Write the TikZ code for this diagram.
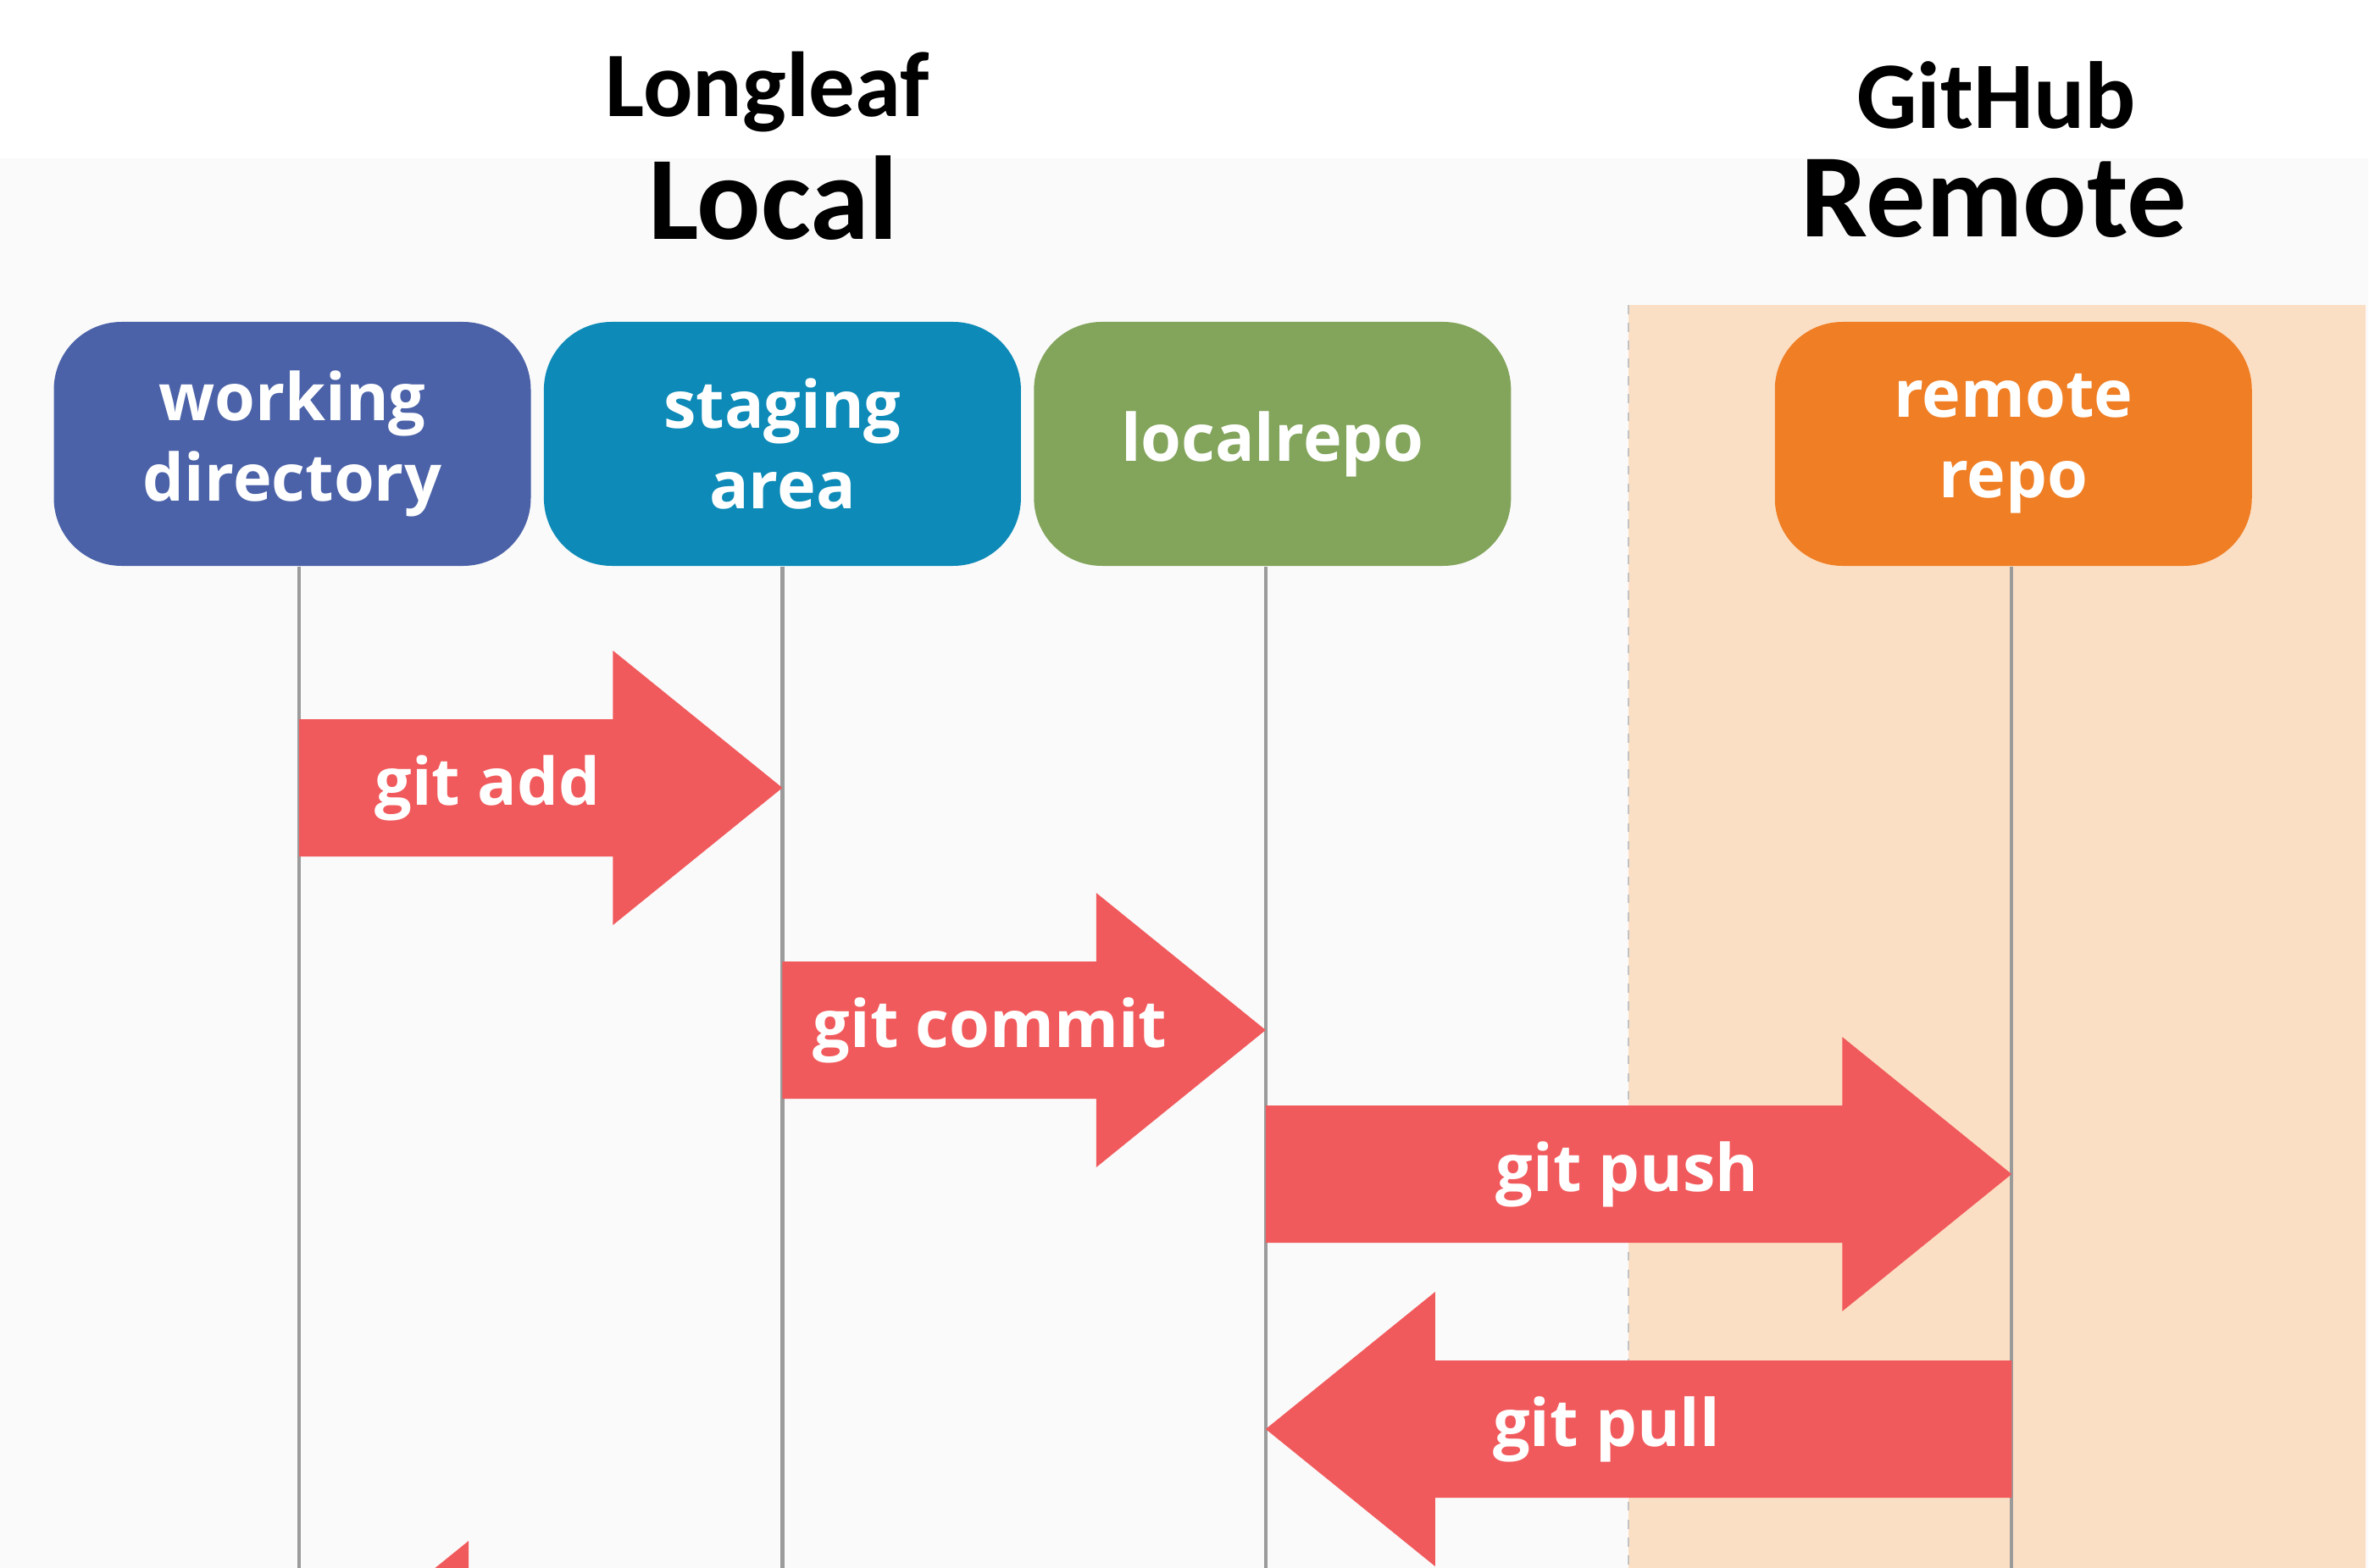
\documentclass[tikz,border=0pt]{standalone}
\usepackage{fontspec}
\setmainfont{Open Sans}
\newfontfamily\titlefont{Carlito}
\usetikzlibrary{calc,positioning}
\definecolor{wdblue}{HTML}{4B62A8}
\definecolor{sateal}{HTML}{0D8AB7}
\definecolor{lrgreen}{HTML}{82A45B}
\definecolor{rrorange}{HTML}{EF7E24}
\definecolor{remotebg}{HTML}{FBDFC4}
\definecolor{pagebg}{HTML}{FAFAFA}
\definecolor{gitred}{HTML}{F15A5C}
\definecolor{lanegray}{HTML}{9B9B9B}

\begin{document}
\begin{tikzpicture}[
  heading/.style={anchor=base, font=\titlefont\fontsize{#1}{#1}\selectfont\bfseries},
  repobox/.style={rounded corners=0.8cm, minimum width=5.63cm, minimum height=2.88cm,
    inner sep=0pt, align=center, text=white, font=\fontsize{22}{27}\selectfont\bfseries},
  lane/.style={lanegray, line width=1.2pt},
  gitstep/.style={fill=gitred, to path={
    ($(\tikztostart)+(0,0.81)$) -- ($(\tikztotarget)!2cm!(\tikztostart)+(0,0.81)$)
    -- ($(\tikztotarget)!2cm!(\tikztostart)+(0,1.62)$) -- (\tikztotarget)
    -- ($(\tikztotarget)!2cm!(\tikztostart)+(0,-1.62)$)
    -- ($(\tikztotarget)!2cm!(\tikztostart)+(0,-0.81)$)
    -- ($(\tikztostart)+(0,-0.81)$) -- cycle}},
  steplabel/.style={text=white, inner sep=0pt, font=\fontsize{22}{25}\selectfont\bfseries}
]
\useasboundingbox (0,0) rectangle (28.09,-18.51);
\clip (0,0) rectangle (28.09,-18.51);
\fill[pagebg] (0,-1.87) rectangle (27.95,-18.51);
\fill[remotebg] (19.22,-3.60) rectangle (27.92,-18.51);
\draw[lanegray!60, dashed, line width=0.6pt] (19.22,-3.60) -- (19.22,-18.51);

\node[heading=31] (longleaf) at (9.06,-1.38) {Longleaf};
\node[heading=40] (local) at (9.13,-2.83) {Local};
\node[heading=32] (github) at (23.56,-1.52) {GitHub};
\node[heading=40] (remote) at (23.53,-2.80) {Remote};

\node[repobox, fill=wdblue] (wd) at (3.45,-5.24) {working\\directory};
\node[repobox, fill=sateal, right=0.14cm of wd] (sa) {staging\\area};
\node[repobox, fill=lrgreen, right=0.14cm of sa] (lr) {localrepo};
\node[repobox, fill=rrorange, right=3.10cm of lr] (rr) {remote\\repo};

\coordinate (bottom) at (0,-18.51);
\foreach \repo/\dx in {wd/0.08, sa/0, lr/-0.08, rr/-0.02}{
  \coordinate (\repo-lane) at ([xshift=\dx cm]\repo.south);
  \draw[lane] (\repo-lane) -- (\repo-lane |- bottom);
}

\coordinate (addrow) at (0,-9.30);
\coordinate (commitrow) at (0,-12.16);
\coordinate (pushrow) at (0,-13.86);
\coordinate (pullrow) at (0,-16.87);
\coordinate (nextrow) at (0,-19.81);

\coordinate (add-s) at (wd-lane |- addrow);
\coordinate (add-t) at (sa-lane |- addrow);
\coordinate (commit-s) at (sa-lane |- commitrow);
\coordinate (commit-t) at (lr-lane |- commitrow);
\coordinate (push-s) at (lr-lane |- pushrow);
\coordinate (push-t) at (rr-lane |- pushrow);
\coordinate (pull-s) at (rr-lane |- pullrow);
\coordinate (pull-t) at (lr-lane |- pullrow);
\coordinate (next-s) at (sa-lane |- nextrow);
\coordinate (next-t) at (wd-lane |- nextrow);

\fill[gitstep] (add-s) to (add-t);
\fill[gitstep] (commit-s) to (commit-t);
\fill[gitstep] (push-s) to (push-t);
\fill[gitstep] (pull-s) to (pull-t);
\fill[gitstep] (next-s) to (next-t);

\node[steplabel] (addlbl) at ($(add-s)!0.39!(add-t)$) {git add};
\node[steplabel] (commitlbl) at ($(commit-s)!0.43!(commit-t)$) {git commit};
\node[steplabel] (pushlbl) at ($(push-s)!0.485!(push-t)$) {git push};
\node[steplabel] (pulllbl) at ($(pull-s)!0.543!(pull-t)$) {git pull};
\end{tikzpicture}
\end{document}
